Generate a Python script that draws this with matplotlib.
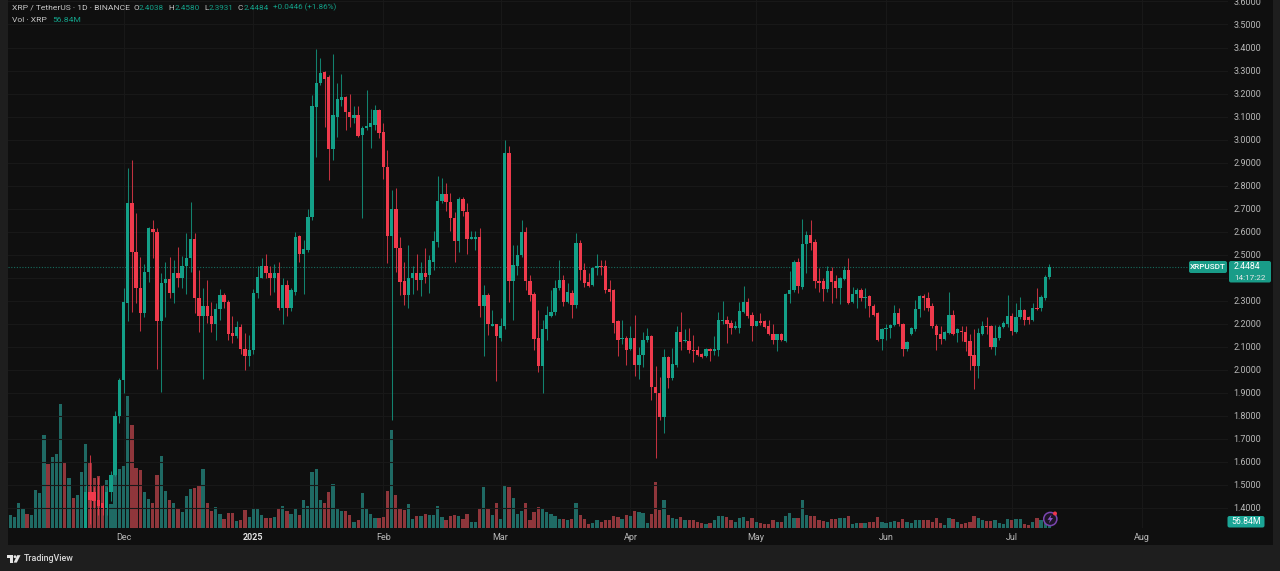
import matplotlib
matplotlib.use("Agg")
import matplotlib.pyplot as plt
from matplotlib.patches import Rectangle, Circle, Polygon, FancyBboxPatch
import numpy as np

plt.rcParams['font.family'] = ['Roboto', 'DejaVu Sans']

# Daily bars starting 2024-11-03 (November values under 1.3 are off-scale estimates)
opens = [
 .51,.52,.53,.54,.56,.57,.55,.57,.60,.62,.72,.68,.76,.80,1.02,.98,1.10,1.08,1.12,1.13,
 1.47,1.47,1.435,1.42,1.40,1.47,1.545,1.80,
 1.955,2.29,2.725,2.51,2.355,2.245,2.425,2.61,2.60,2.21,
 2.375,2.395,2.335,2.42,2.40,2.45,2.485,2.57,2.31,2.235,
 2.275,2.235,2.20,2.265,2.325,2.295,2.16,2.145,2.185,2.09,
 2.06,2.085,2.335,2.40,2.45,2.42,2.40,2.42,2.27,2.37,
 2.27,2.34,2.58,2.505,2.52,2.665,3.14,3.245,3.295,3.27,
 2.96,3.10,3.17,3.185,3.12,3.095,3.105,3.02,3.05,3.055,
 3.065,3.13,3.035,2.88,2.58,2.70,2.53,2.385,2.325,2.40,
 2.42,2.39,2.42,2.41,2.47,2.555,2.735,2.765,2.73,2.66,
 2.56,2.74,2.685,2.57,2.57,2.575,2.275,2.325,2.19,2.20,
 2.14,2.19,2.94,2.385,2.45,2.50,2.60,2.385,2.33,2.14,
 2.015,2.175,2.235,2.25,2.355,2.39,2.295,2.335,2.28,2.55,
 2.435,2.38,2.37,2.44,2.45,2.45,2.35,2.345,2.21,2.135,
 2.14,2.09,2.14,2.02,2.065,2.13,2.145,1.925,1.90,1.795,
 2.055,1.965,2.02,2.165,2.125,2.125,2.085,2.085,2.07,2.06,
 2.09,2.08,2.085,2.21,2.215,2.205,2.18,2.18,2.25,2.295,
 2.24,2.19,2.21,2.21,2.19,2.155,2.13,2.155,2.125,2.33,
 2.345,2.47,2.36,2.545,2.585,2.555,2.385,2.385,2.35,2.43,
 2.385,2.355,2.395,2.435,2.295,2.33,2.345,2.31,2.32,2.275,
 2.245,2.135,2.175,2.18,2.195,2.245,2.20,2.09,2.155,2.175,
 2.265,2.32,2.31,2.275,2.19,2.155,2.135,2.16,2.24,2.16,
 2.17,2.165,2.125,2.065,2.015,2.155,2.19,2.19,2.10,2.14,
 2.185,2.20,2.235,2.165,2.23,2.26,2.23,2.215,2.27,2.27,
 2.31,2.4038]
highs = [
 .53,.54,.55,.57,.58,.58,.58,.61,.64,.74,.74,.78,.82,1.05,1.06,1.14,1.15,1.16,1.20,1.50,
 1.63,1.49,1.535,1.50,1.49,1.56,1.82,1.965,
 2.355,2.875,2.91,2.68,2.49,2.46,2.62,2.65,2.615,2.42,
 2.47,2.49,2.475,2.535,2.495,2.595,2.73,2.595,2.435,2.355,
 2.39,2.295,2.29,2.35,2.335,2.305,2.235,2.21,2.20,2.16,
 2.15,2.35,2.45,2.485,2.505,2.45,2.46,2.47,2.40,2.39,
 2.355,2.60,2.585,2.565,2.70,3.195,3.395,3.355,3.30,3.28,
 3.37,3.245,3.285,3.19,3.20,3.145,3.145,3.06,3.215,3.135,
 3.15,3.135,3.07,2.955,2.78,2.79,2.575,2.47,2.54,2.45,
 2.505,2.47,2.53,2.50,2.605,2.84,2.835,2.81,2.77,2.685,
 2.75,2.75,2.725,2.605,2.605,2.615,2.37,2.335,2.26,2.20,
 2.225,3.0,2.97,2.54,2.54,2.65,2.62,2.41,2.34,2.26,
 2.215,2.275,2.345,2.39,2.475,2.41,2.375,2.345,2.595,2.565,
 2.465,2.42,2.445,2.505,2.475,2.475,2.39,2.35,2.215,2.215,
 2.145,2.19,2.24,2.10,2.165,2.18,2.15,2.015,1.97,2.09,
 2.06,2.095,2.19,2.25,2.175,2.18,2.15,2.105,2.075,2.095,
 2.095,2.145,2.25,2.30,2.235,2.215,2.21,2.295,2.365,2.31,
 2.25,2.21,2.245,2.215,2.215,2.20,2.155,2.16,2.335,2.43,
 2.475,2.485,2.655,2.605,2.65,2.57,2.44,2.40,2.45,2.445,
 2.41,2.405,2.45,2.485,2.36,2.355,2.355,2.355,2.325,2.285,
 2.25,2.18,2.20,2.20,2.28,2.27,2.205,2.125,2.185,2.305,
 2.325,2.33,2.34,2.29,2.20,2.19,2.17,2.34,2.26,2.18,
 2.19,2.19,2.155,2.175,2.18,2.21,2.23,2.195,2.195,2.195,
 2.21,2.325,2.245,2.29,2.315,2.265,2.235,2.29,2.355,2.325,
 2.41,2.458]
lows = [
 .50,.51,.52,.53,.55,.54,.54,.56,.59,.61,.66,.67,.74,.78,.95,.96,1.03,1.05,1.09,1.12,
 1.33,1.40,1.37,1.37,1.37,1.43,1.54,1.77,
 1.90,2.21,2.25,2.29,2.17,2.23,2.38,2.485,2.005,1.905,
 2.23,2.31,2.29,2.36,2.355,2.33,2.425,2.245,2.165,1.96,
 2.205,2.165,2.13,2.215,2.27,2.13,2.115,2.14,2.07,2.0,
 2.015,2.07,2.31,2.40,2.40,2.325,2.34,2.26,2.20,2.235,
 2.255,2.325,2.47,2.33,2.51,2.65,2.925,3.235,3.055,2.825,
 2.91,3.01,3.145,3.04,3.055,3.07,3.01,2.66,3.04,2.965,
 3.04,3.005,2.83,2.465,1.78,2.425,2.325,2.28,2.27,2.33,
 2.345,2.32,2.375,2.335,2.435,2.535,2.725,2.69,2.605,2.47,
 2.51,2.67,2.505,2.57,2.52,2.23,2.06,2.15,2.19,1.95,
 2.125,2.175,2.295,2.215,2.41,2.49,2.345,2.30,2.085,1.99,
 1.90,2.13,2.23,2.24,2.345,2.275,2.29,2.225,2.27,2.39,
 2.36,2.36,2.365,2.41,2.41,2.335,2.30,2.16,2.06,2.11,
 2.02,2.085,1.975,1.96,2.01,2.12,1.87,1.615,1.78,1.725,
 1.92,1.955,2.01,2.085,2.12,2.075,2.035,2.06,2.05,2.055,
 2.04,2.065,2.06,2.20,2.115,2.155,2.175,2.16,2.245,2.225,
 2.125,2.19,2.195,2.18,2.15,2.11,2.08,2.125,2.12,2.29,
 2.34,2.335,2.35,2.42,2.52,2.355,2.34,2.30,2.34,2.29,
 2.31,2.285,2.39,2.285,2.29,2.27,2.30,2.27,2.23,2.235,
 2.125,2.085,2.13,2.14,2.19,2.19,2.06,2.08,2.15,2.17,
 2.23,2.26,2.255,2.18,2.085,2.11,2.13,2.155,2.15,2.12,
 2.125,2.08,2.0,1.915,1.965,2.15,2.155,2.09,2.065,2.13,
 2.18,2.185,2.15,2.16,2.22,2.195,2.20,2.21,2.26,2.255,
 2.305,2.3931]
closes = [
 .52,.53,.54,.56,.57,.55,.57,.60,.62,.72,.68,.76,.80,1.02,.98,1.10,1.08,1.12,1.13,1.47,
 1.435,1.43,1.41,1.40,1.47,1.545,1.80,1.955,
 2.295,2.725,2.51,2.355,2.245,2.425,2.615,2.60,2.21,2.375,
 2.395,2.335,2.42,2.40,2.45,2.485,2.57,2.31,2.235,2.275,
 2.235,2.20,2.265,2.325,2.295,2.155,2.145,2.185,2.09,2.06,
 2.085,2.335,2.405,2.45,2.42,2.40,2.42,2.27,2.37,2.27,
 2.345,2.575,2.505,2.525,2.665,3.145,3.245,3.29,3.265,2.96,
 3.105,3.175,3.185,3.12,3.10,3.105,3.015,3.05,3.06,3.07,
 3.13,3.03,2.88,2.58,2.70,2.53,2.38,2.325,2.40,2.42,
 2.39,2.42,2.405,2.475,2.56,2.735,2.765,2.73,2.66,2.56,
 2.74,2.69,2.57,2.575,2.575,2.275,2.325,2.20,2.20,2.145,
 2.19,2.94,2.385,2.455,2.50,2.60,2.385,2.325,2.135,2.015,
 2.175,2.24,2.25,2.355,2.39,2.295,2.34,2.28,2.55,2.435,
 2.375,2.365,2.44,2.45,2.445,2.345,2.34,2.205,2.13,2.14,
 2.085,2.14,2.02,2.065,2.13,2.145,1.925,1.90,1.795,2.055,
 1.965,2.025,2.165,2.12,2.13,2.085,2.08,2.065,2.055,2.09,
 2.08,2.09,2.215,2.215,2.20,2.18,2.19,2.255,2.295,2.235,
 2.19,2.21,2.205,2.185,2.155,2.13,2.155,2.13,2.33,2.345,
 2.47,2.365,2.545,2.585,2.55,2.385,2.375,2.35,2.43,2.38,
 2.355,2.40,2.435,2.29,2.33,2.345,2.31,2.315,2.275,2.24,
 2.13,2.175,2.18,2.195,2.245,2.20,2.09,2.12,2.18,2.265,
 2.32,2.31,2.27,2.19,2.15,2.135,2.165,2.24,2.155,2.175,
 2.165,2.12,2.06,2.015,2.16,2.19,2.185,2.10,2.14,2.185,
 2.205,2.235,2.17,2.23,2.26,2.215,2.215,2.27,2.265,2.315,
 2.405,2.4484]
volumes = [  # millions
 74,96,81,185,148,104,96,281,259,688,474,525,548,918,488,370,222,244,414,622,481,370,385,311,355,178,392,437,
 459,977,762,444,429,266,215,185,392,533,274,207,185,148,118,237,289,296,318,437,185,126,155,104,67,111,111,52,59,133,81,
 141,148,96,74,74,81,141,163,126,104,148,96,207,163,414,437,207,185,266,326,148,126,126,96,44,59,259,148,104,74,74,81,274,725,244,
 141,133,178,67,89,89,104,96,96,163,81,59,89,96,89,67,104,44,44,141,303,148,96,185,67,318,303,222,104,126,185,59,118,155,148,118,104,89,67,67,59,67,185,96,67,30,37,59,44,59,59,89,81,67,96,89,126,118,111,37,104,340,133,207,96,74,67,81,59,59,59,44,37,30,37,59,89,89,81,59,44,74,81,52,74,44,37,30,30,59,44,44,89,111,74,74,
 207,96,89,89,59,52,44,67,67,74,74,89,30,37,37,37,44,44,81,44,37,44,52,44,67,44,37,59,59,59,59,44,74,37,22,74,67,44,30,37,44,89,74,59,52,52,59,37,30,67,59,67,67,30,22,44,74,59,44,56.84]
month_days = [0, 31, 62, 90, 121, 151, 182, 212, 243]  # days after 2024-12-01
month_labels = ["Dec", "2025", "Feb", "Mar", "Apr", "May", "Jun", "Jul", "Aug"]
price_ticks = [1.4,1.5,1.6,1.7,1.8,1.9,2.0,2.1,2.2,2.3,2.4,2.5,2.6,2.7,2.8,2.9,3.0,3.1,3.2,3.3,3.4,3.5,3.6]
last_close = 2.4484
last_volume = "56.84M"

FIRST_DAY = -28
TEAL, RED = "#13a088", "#ef3a4c"
VTEAL, VRED = "#1f6a64", "#8f363b"
BG, FRAME, GRID = "#0f0f0f", "#1e1e1e", "#181818"
TXT = "#b8b8b8"

W, H = 1280, 571
L, R, B = 7.5, 1228.0, 527.7
rect = [L/W, 1-B/H, (R-L)/W, B/H]

fig = plt.figure(figsize=(12.8, 5.71), dpi=100, facecolor=FRAME)

bg = fig.add_axes([0, 0, 1, 1], zorder=0)
bg.set_xlim(0, W); bg.set_ylim(H, 0); bg.axis("off")
bg.add_patch(Rectangle((7.5, 0), 1265.2, 545, fc=BG, ec="none"))

days = np.arange(len(closes)) + FIRST_DAY
o, h, l, c = map(np.array, (opens, highs, lows, closes))
up = c >= o
px_per_day = 4.19
xlim = (FIRST_DAY + (L - (123.5 + FIRST_DAY*px_per_day))/px_per_day,
        FIRST_DAY + (R - (123.5 + FIRST_DAY*px_per_day))/px_per_day)

axv = fig.add_axes(rect, zorder=1)
axv.patch.set_alpha(0)
axv.set_xlim(*xlim)
axv.set_ylim(0, 7.4*B)
axv.bar(days, volumes, width=0.78, color=[VTEAL if u else VRED for u in up], linewidth=0, zorder=2)
axv.set_xticks(month_days)
axv.set_xticklabels(month_labels, fontsize=6.5, color=TXT)
axv.get_xticklabels()[1].set_color("#e0e0e0")
axv.get_xticklabels()[1].set_fontweight("bold")
axv.tick_params(axis="x", length=0, pad=4)
axv.tick_params(axis="y", left=False, labelleft=False)
axv.grid(axis="x", color=GRID, lw=0.8, zorder=0)
axv.set_axisbelow(True)
for s in axv.spines.values():
    s.set_visible(False)

axp = fig.add_axes(rect, zorder=2)
axp.patch.set_alpha(0)
axp.set_xlim(*xlim)
axp.set_ylim(3.4 - (B-47.5)/230.2, 3.4 + 47.5/230.2)
colors = [TEAL if u else RED for u in up]
axp.grid(axis="y", color=GRID, lw=0.8, zorder=0)
axp.set_axisbelow(True)
axp.vlines(days, l, h, colors=colors, lw=0.75, alpha=0.8, zorder=3)
axp.bar(days, np.maximum(np.abs(c-o), 0.004), bottom=np.minimum(o, c), width=0.8,
        color=colors, linewidth=0, zorder=4)
axp.axhline(last_close, color="#176b5e", lw=0.8, ls=(0, (1, 1.5)), zorder=2)
axp.yaxis.tick_right()
axp.set_yticks(price_ticks)
# the 2.4 label sits behind the last-price tag in the reference, so it shows no text
axp.set_yticklabels(["" if abs(t - 2.4) < 1e-9 else f"{t:.4f}" for t in price_ticks], fontsize=6.5, color=TXT)
axp.tick_params(axis="y", length=0, pad=4)
axp.tick_params(axis="x", bottom=False, labelbottom=False)
for s in axp.spines.values():
    s.set_visible(False)

ov = fig.add_axes([0, 0, 1, 1], zorder=3)
ov.patch.set_alpha(0)
ov.set_xlim(0, W); ov.set_ylim(H, 0); ov.axis("off")

def t(x, y, s, color=TXT, size=5.9, **kw):
    kw.setdefault("ha", "left")
    ov.text(x, y, s, color=color, fontsize=size, va="center", **kw)

LBL = "#13a088"
t(12, 7.5, "XRP / TetherUS · 1D · BINANCE", "#c6c6c6", size=6.1)
for x, s in ((133, "O"), (168, "H"), (204, "L"), (238, "C")):
    t(x, 7.5, s, "#c6c6c6")
for x, s in ((139, "2.4038"), (175, "2.4580"), (209, "2.3931"), (244, "2.4484"), (273, "+0.0446 (+1.86%)")):
    t(x, 7.5, s, LBL)
t(12, 19.5, "Vol · XRP", "#c6c6c6", size=6.1)
t(52, 19.5, "56.84M", LBL, size=6.1)

BOX = "#199c88"
ov.add_patch(FancyBboxPatch((1190, 262), 36, 10, boxstyle="round,pad=1,rounding_size=2", fc=BOX, ec="none"))
ov.add_patch(FancyBboxPatch((1230, 262), 40, 19.5, boxstyle="round,pad=1,rounding_size=2", fc=BOX, ec="none"))
ov.add_patch(FancyBboxPatch((1228.5, 517), 35, 9.5, boxstyle="round,pad=1,rounding_size=2", fc="#1ba596", ec="none"))
t(1208, 267, "XRPUSDT", "white", ha="center", fontweight="medium")
t(1234, 266.5, f"{last_close:.4f}", "white", size=6.3)
t(1234, 277.5, "14:17:22", "#e8e8e8")
t(1246, 522, last_volume, "white", ha="center", size=6.3)

ov.add_patch(Circle((1050.3, 519), 6.6, fc="#1d1426", ec="#7a45b0", lw=1.1))
ov.add_patch(Polygon([(1051.5, 514.5), (1047.5, 519.8), (1050, 519.8), (1049, 523.3), (1053, 518), (1050.5, 518)],
                     fc="#8b55c8", ec="none"))
ov.add_patch(Circle((1055, 513.5), 2, fc="#f0364a", ec="none"))

LOGO = "#e6e6e6"
ov.add_patch(Polygon([(6.8, 555.2), (13.2, 555.2), (13.2, 562.6), (10, 562.6), (10, 558), (6.8, 558)], fc=LOGO, ec="none"))
ov.add_patch(Circle((15, 556.7), 1.4, fc=LOGO, ec="none"))
ov.add_patch(Polygon([(17.2, 555.2), (20.5, 555.2), (16.8, 562.6), (13.6, 562.6)], fc=LOGO, ec="none"))
t(24, 558.5, "TradingView", "#d8d8d8", size=6.4, fontweight="medium")

fig.savefig("out.png", dpi=100, facecolor=FRAME)
